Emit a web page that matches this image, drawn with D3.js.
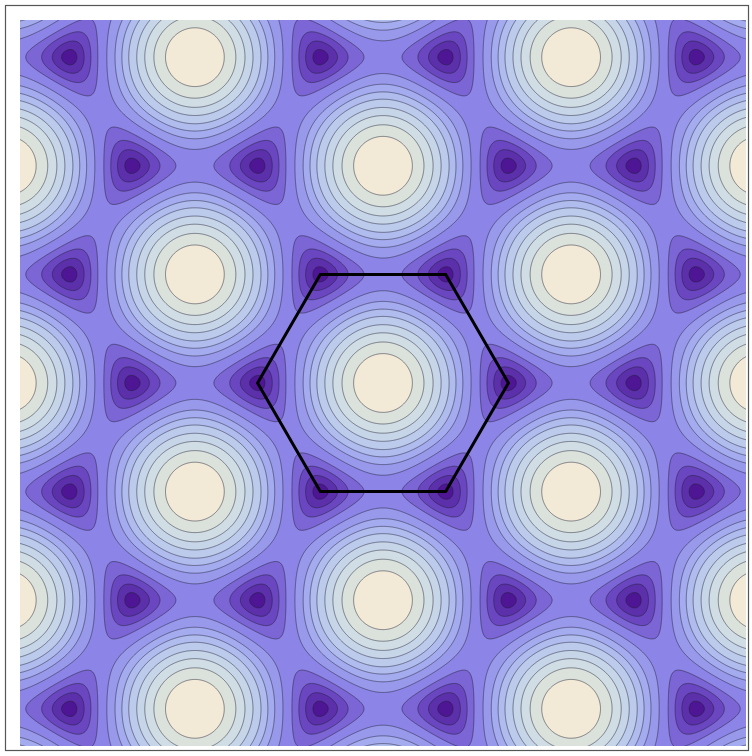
<!DOCTYPE html>
<html>
<head>
<meta charset="utf-8">
<script src="https://cdn.jsdelivr.net/npm/d3@7"></script>
<style>
  html, body { margin: 0; padding: 0; background: #ffffff; }
  svg { display: block; }
</style>
</head>
<body>
<svg id="chart" width="752" height="756"></svg>
<script>
// Nearest-neighbour tight-binding band of graphene, |f(k)|, drawn as filled
// contours over reciprocal space, with the first Brillouin zone outlined.

// C–C bond vectors (bond length = 1)
const bondVectors = [[0, 1], [Math.sqrt(3) / 2, -0.5], [-Math.sqrt(3) / 2, -0.5]];
// kx, ky extent of the plot
const kRange = [-7, 7];
// range of |f(k)| used for colouring
const bandRange = [0, 3];
// contour values of |f(k)|
const contourLevels = [0.22, 0.45, 0.67, 0.90, 1.20, 1.47, 1.69, 1.90, 2.13, 2.34, 2.55, 2.764];

const W = 752, H = 756;
const plot = { left: 20, top: 20, size: 726 };

const svg = d3.select("#chart");

const x = d3.scaleLinear().domain(kRange).range([plot.left, plot.left + plot.size]);
const y = d3.scaleLinear().domain(kRange).range([plot.top + plot.size, plot.top]);

function band(kx, ky) {
  let re = 0, im = 0;
  for (const [dx, dy] of bondVectors) {
    const p = kx * dx + ky * dy;
    re += Math.cos(p);
    im += Math.sin(p);
  }
  return Math.hypot(re, im);
}

// colour ramp (dark violet -> periwinkle -> pale blue -> cream)
const ramp = d3.scaleLinear()
  .domain([0.0, 0.10, 0.19, 0.26, 0.35, 0.44, 0.53, 0.60, 0.67, 0.75, 0.82, 0.89, 0.96])
  .range(["#470a8a", "#5a2ca8", "#6b48c2", "#7c64d4", "#8c84e6", "#9898ec", "#a4acee",
          "#b0bcee", "#bccaec", "#c8d6e8", "#d2dde4", "#dce2dc", "#f2e9d7"])
  .interpolate(d3.interpolateRgb)
  .clamp(true);
const norm = d3.scaleLinear().domain(bandRange).range([0, 1]);

// sample the band on a pixel grid slightly larger than the plot
const step = 1;
const margin = 6;
const gx0 = plot.left - margin, gy0 = plot.top - margin;
const n = Math.ceil((plot.size + 2 * margin) / step);
const values = new Float64Array(n * n);
for (let j = 0; j < n; j++) {
  const ky = y.invert(gy0 + (j + 0.5) * step);
  for (let i = 0; i < n; i++) {
    const kx = x.invert(gx0 + (i + 0.5) * step);
    values[j * n + i] = band(kx, ky);
  }
}

const contours = d3.contours().size([n, n]).thresholds(contourLevels)(values);

const path = d3.geoPath(d3.geoTransform({
  point(px, py) { this.stream.point(gx0 + px * step, gy0 + py * step); }
}));

svg.append("defs").append("clipPath").attr("id", "plot-clip")
  .append("rect")
  .attr("x", plot.left).attr("y", plot.top)
  .attr("width", plot.size).attr("height", plot.size);

// outer border
svg.append("rect")
  .attr("x", 5.5).attr("y", 5.5)
  .attr("width", 743).attr("height", 745)
  .attr("fill", "#ffffff")
  .attr("stroke", "#555555")
  .attr("stroke-width", 1.2);

const g = svg.append("g").attr("clip-path", "url(#plot-clip)");

// band colours: midpoint of each interval between contour values
const edges = [bandRange[0], ...contourLevels, bandRange[1]];
const bandColor = i => ramp(norm((edges[i] + edges[i + 1]) / 2));

g.append("rect")
  .attr("x", plot.left).attr("y", plot.top)
  .attr("width", plot.size).attr("height", plot.size)
  .attr("fill", bandColor(0));

g.selectAll("path.fill")
  .data(contours)
  .join("path")
  .attr("class", "fill")
  .attr("d", path)
  .attr("fill", (d, i) => bandColor(i + 1));

g.selectAll("path.line")
  .data(contours)
  .join("path")
  .attr("class", "line")
  .attr("d", path)
  .attr("fill", "none")
  .attr("stroke", "rgba(30,30,50,0.5)")
  .attr("stroke-width", 1);

// first Brillouin zone: hexagon through the K points
const kPoint = 4 * Math.PI / (3 * Math.sqrt(3));
const zone = d3.range(6).map(i => {
  const a = i * Math.PI / 3;
  return [kPoint * Math.cos(a), kPoint * Math.sin(a)];
});
svg.append("path")
  .attr("d", d3.line().x(d => x(d[0])).y(d => y(d[1]))(zone) + "Z")
  .attr("fill", "none")
  .attr("stroke", "#000000")
  .attr("stroke-width", 3)
  .attr("stroke-linejoin", "miter");
</script>
</body>
</html>
